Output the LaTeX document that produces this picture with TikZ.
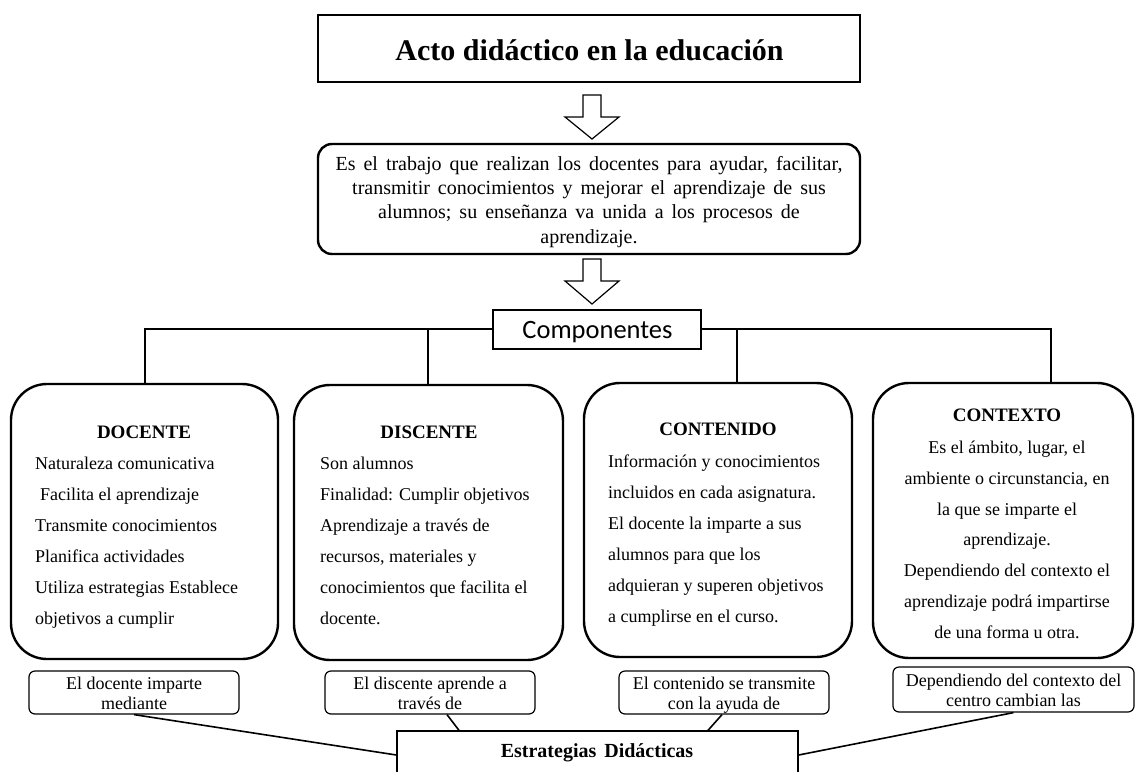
\documentclass[tikz,border=0pt]{standalone}
\usepackage{fontspec}
\setmainfont{Liberation Serif}
\newfontfamily\calib{Carlito}
\newcommand{\descskip}{\spaceskip=8pt plus 1pt\relax}
\newcommand{\estrskip}{\spaceskip=8pt\relax}
\begin{document}
\begin{tikzpicture}[x=1pt,y=-1pt,
  frame/.style={draw, line width=2.4pt, inner sep=0pt},
  bigbox/.style={draw, line width=2.4pt, rounded corners=36pt, inner sep=0pt},
  smallbox/.style={draw, line width=1.2pt, rounded corners=6pt, inner sep=0pt},
  thinbox/.style={draw, line width=1.3pt, inner sep=0pt, fill=white},
  tree/.style={line width=2.4pt},
  link/.style={line width=1.6pt},
  blockarrow/.style={draw, line width=1.2pt, fill=white, line join=miter},
  head/.style={font=\bfseries\fontsize{19}{22}\selectfont, anchor=base, inner sep=0pt},
  body/.style={font=\fontsize{18}{31}\selectfont, align=left, anchor=base west, inner sep=0pt},
  bodyc/.style={font=\fontsize{18}{30.7}\selectfont, align=center, anchor=base, inner sep=0pt},
  note/.style={font=\fontsize{18}{20}\selectfont, align=center, anchor=base, inner sep=0pt},
]
\useasboundingbox (0,0) rectangle (1137,771);
\clip (0,0) rectangle (1137,771);

% title
\node[frame, minimum width=542pt, minimum height=67pt] (title) at (589,48.5) {};
\node[font=\bfseries\fontsize{30}{34}\selectfont, anchor=base, inner sep=0pt] (titletxt) at (589.5,60) {Acto didáctico en la educación};

% arrow 1
\coordinate (a1) at (592,95);
\draw[blockarrow] (a1) ++(-9,0) -- ++(18,0) -- ++(0,22) -- ++(18,0) -- ++(-27,22) -- ++(-27,-22) -- ++(18,0) -- cycle;

% description (base anchor = last line)
\node[bigbox, rounded corners=14pt, minimum width=542pt, minimum height=110pt] (desc) at (589,199) {};
\node[font=\fontsize{20}{24.3}\selectfont\descskip, align=center, anchor=base, inner sep=0pt] (desctxt) at (589,243) {Es el trabajo que realizan los docentes para ayudar, facilitar,\\ transmitir conocimientos y mejorar el aprendizaje de sus\\ alumnos; su enseñanza va unida a los procesos de\\ aprendizaje.};

% arrow 2
\coordinate (a2) at (592,259);
\draw[blockarrow] (a2) ++(-9,0) -- ++(18,0) -- ++(0,22) -- ++(18,0) -- ++(-27,23) -- ++(-27,-23) -- ++(18,0) -- cycle;

% main boxes
\node[bigbox, minimum width=267pt, minimum height=275pt] (docente) at (144.5,521.5) {};
\node[bigbox, minimum width=269pt, minimum height=275pt] (discente) at (428.5,522.5) {};
\node[bigbox, minimum width=268pt, minimum height=274pt] (contenido) at (718,520) {};
\node[bigbox, minimum width=260pt, minimum height=275pt] (contexto) at (1003,520.5) {};

% tree
\coordinate (j1) at (145,329);
\coordinate (j2) at (428,329);
\coordinate (j3) at (737,329);
\coordinate (j4) at (1051,329);
\draw[tree] (j1 |- docente.north) -- (j1) -- (j4) -- (j4 |- contexto.north);
\draw[tree] (j2) -- (j2 |- discente.north);
\draw[tree] (j3) -- (j3 |- contenido.north);
\node[thinbox, minimum width=208pt, minimum height=39pt] (comp) at (597,329.5) {};
\node[font=\calib\fontsize{26.5}{30}\selectfont, anchor=base, inner sep=0pt] (comptxt) at (597.5,338) {Componentes};

% box texts (multi-line nodes: base anchor at last line)
\node[head] (doch) at (144,438) {DOCENTE};
\node[body] (doct) at (35,624) {Naturaleza comunicativa\\\hspace*{5pt}Facilita el aprendizaje\\Transmite conocimientos\\Planifica actividades\\Utiliza estrategias Establece\\objetivos a cumplir};

\node[head] (disch) at (429,438) {DISCENTE};
\node[body] (disct) at (320,624) {Son alumnos\\Finalidad: Cumplir objetivos\\Aprendizaje a través de\\recursos, materiales y\\conocimientos que facilita el\\docente.};

\node[head] (conth) at (718,435) {CONTENIDO};
\node[body] (contt) at (608,622) {Información y conocimientos\\incluidos en cada asignatura.\\El docente la imparte a sus\\alumnos para que los\\adquieran y superen objetivos\\a cumplirse en el curso.};

\node[head] (ctxh) at (1007,421.5) {CONTEXTO};
\node[bodyc] (ctxt) at (1007,638) {Es el ámbito, lugar, el\\ambiente o circunstancia, en\\la que se imparte el\\aprendizaje.\\Dependiendo del contexto el\\aprendizaje podrá impartirse\\de una forma u otra.};

% small boxes
\node[smallbox, minimum width=210pt, minimum height=43pt] (s1) at (134,692.5) {};
\node[smallbox, minimum width=210pt, minimum height=43pt] (s2) at (430,692.5) {};
\node[smallbox, minimum width=210pt, minimum height=43pt] (s3) at (724,692.5) {};
\node[smallbox, minimum width=241pt, minimum height=45pt] (s4) at (1013.5,689.5) {};
\node[note] (s1t) at (134,709) {El docente imparte\\mediante};
\node[note] (s2t) at (430,709) {El discente aprende a\\través de};
\node[note] (s3t) at (724,709) {El contenido se transmite\\con la ayuda de};
\node[note] (s4t) at (1013.5,706) {Dependiendo del contexto del\\centro cambian las};

% estrategias
\node[thinbox, minimum width=401pt, minimum height=48pt] (estr) at (597.5,755) {};
\node[font=\bfseries\fontsize{20}{22}\selectfont\estrskip, anchor=base, inner sep=0pt] (estrt) at (597,757) {Estrategias Didácticas};

% links
\draw[link] (s1.south) -- (estr.west);
\draw[link] ([xshift=17pt]s2.south) -- ([xshift=-138.5pt]estr.north);
\draw[link] ([xshift=-2pt]s3.south) -- ([xshift=110.5pt]estr.north);
\draw[link] (s4.south) -- (estr.east);
\end{tikzpicture}
\end{document}
